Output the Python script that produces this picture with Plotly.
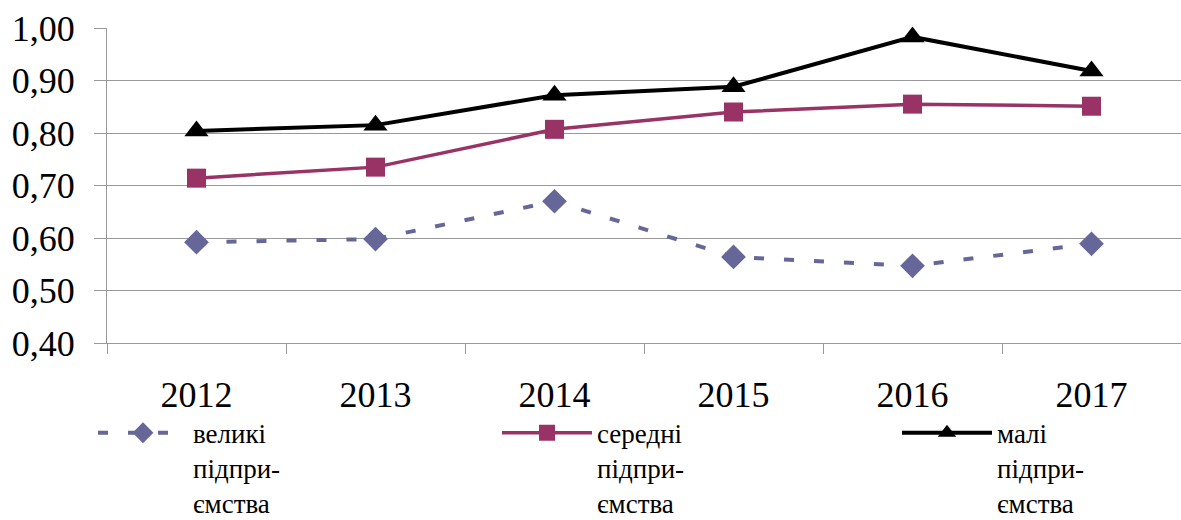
import plotly.graph_objects as go

years = ["2012", "2013", "2014", "2015", "2016", "2017"]
large = [0.592, 0.598, 0.670, 0.564, 0.547, 0.589]
medium = [0.714, 0.735, 0.807, 0.840, 0.855, 0.851]
small = [0.804, 0.815, 0.872, 0.888, 0.983, 0.918]

names = ["великі<br>підпри-<br>ємства", "середні<br>підпри-<br>ємства", "малі<br>підпри-<br>ємства"]

serif = "Liberation Serif, Times New Roman, serif"

fig = go.Figure()
fig.add_trace(go.Scatter(x=years, y=large, name=names[0], mode="lines+markers",
                         line=dict(color="#666699", width=4, dash="10px,20px"),
                         marker=dict(symbol="diamond", size=19, color="#666699"),
                         cliponaxis=False, legend="legend"))
fig.add_trace(go.Scatter(x=years, y=medium, name=names[1], mode="lines+markers",
                         line=dict(color="#993366", width=3.5),
                         marker=dict(symbol="square", size=19, color="#993366"),
                         cliponaxis=False, legend="legend2"))
fig.add_trace(go.Scatter(x=years, y=small, name=names[2], mode="lines+markers",
                         line=dict(color="black", width=4),
                         marker=dict(symbol="triangle-up", size=21, color="black"),
                         cliponaxis=False, legend="legend3"))

# one legend per series so each entry sits where it does in the original
leg = dict(xref="container", xanchor="left", yref="container", y=0.214, yanchor="top",
           valign="top", bgcolor="rgba(0,0,0,0)", itemwidth=90,
           font=dict(family=serif, size=27, color="black"))

fig.update_layout(
    width=1181, height=520,
    margin=dict(l=107, r=0, t=28, b=177, autoexpand=False),
    paper_bgcolor="white", plot_bgcolor="white",
    separators=", ",
    font=dict(family=serif, size=36, color="black"),
    showlegend=True,
    legend=dict(leg, x=93 / 1181),
    legend2=dict(leg, x=497 / 1181),
    legend3=dict(leg, x=897 / 1181),
)
fig.update_xaxes(type="category", range=[-0.5, 5.5], tickson="boundaries", ticks="outside",
                 ticklen=10, tickcolor="#999999", showgrid=False, showline=True,
                 linecolor="#999999", linewidth=1, ticklabelstandoff=20,
                 tickfont=dict(family=serif, size=36))
fig.update_yaxes(range=[0.40, 1.00], dtick=0.1, tickformat=".2f", ticks="outside",
                 ticklen=12, tickcolor="#999999", showgrid=True, gridcolor="#999999",
                 gridwidth=1, showline=True, linecolor="#999999", linewidth=1,
                 zeroline=False, ticklabelstandoff=12,
                 tickfont=dict(family=serif, size=36))

# page body has a default 8px margin, drop it so the chart sits at the corner
fig.write_html("out.html", config={"displayModeBar": False},
               post_script="document.body.style.margin = '0';")
